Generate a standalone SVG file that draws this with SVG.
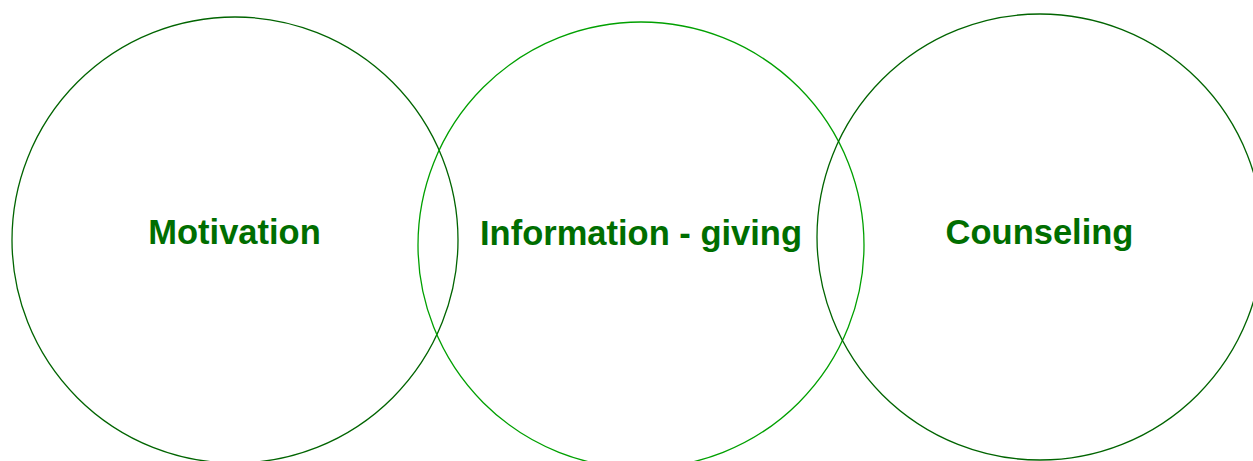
<svg xmlns="http://www.w3.org/2000/svg" width="1253" height="461" viewBox="0 0 1253 461">
<style>
.c{fill:none;stroke-width:1.3}
.t{font-family:"Liberation Sans",Arial,sans-serif;font-weight:bold;font-size:34.5px;fill:#006e00;text-anchor:middle}
</style>
<rect width="1253" height="461" fill="#fff"/>
<g id="motivation"><circle class="c" cx="235" cy="240" r="223" stroke="#006400"/><text class="t" x="234.5" y="244">Motivation</text></g>
<g id="information"><circle class="c" cx="641" cy="245" r="223" stroke="#00a000"/><text class="t" x="641" y="245">Information - giving</text></g>
<g id="counseling"><circle class="c" cx="1040" cy="237" r="223" stroke="#006400"/><text class="t" x="1039.5" y="244">Counseling</text></g>
<g id="connectors"/>
</svg>
